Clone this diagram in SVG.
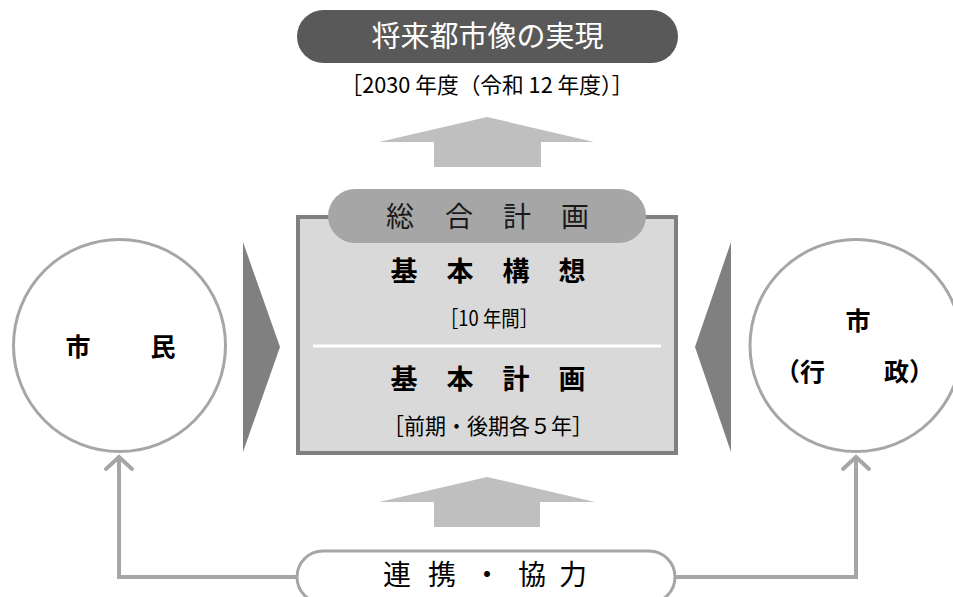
<svg xmlns="http://www.w3.org/2000/svg" width="953" height="597" viewBox="0 0 953 597">
<style>
text{font-family:"Noto Sans CJK JP","Noto Sans",sans-serif;fill:#000}
.mid{text-anchor:middle}
.b{font-weight:bold}
.circ{fill:#fff;stroke:#a6a6a6;stroke-width:3}
.conn{fill:none;stroke:#a6a6a6;stroke-width:4;stroke-linejoin:miter}
.uparrow{fill:#bfbfbf}
.tri{fill:#808080}
</style>
<rect width="953" height="597" fill="#fff"/>

<g id="goal">
<rect x="297" y="10" width="381" height="53" rx="26.5" fill="#595959"/>
<text class="mid" x="487.5" y="47" font-size="29" style="fill:#fff">将来都市像の実現</text>
<text class="mid" x="487" y="93" font-size="22" textLength="293" lengthAdjust="spacingAndGlyphs">［2030 年度（令和 12 年度）］</text>
</g>

<g id="arrow-top">
<polygon class="uparrow" points="487,117 594,142 541,142 541,167 434,167 434,142 379,142"/>
</g>

<g id="plan">
<rect x="298" y="217" width="378" height="236" fill="#d9d9d9" stroke="#808080" stroke-width="4"/>
<rect x="328" y="189" width="318" height="54" rx="27" fill="#a6a6a6"/>
<text class="mid" x="400 459 517 575" y="227" font-size="28" style="fill:#1a1a1a">総合計画</text>
<text class="mid b" x="404 460 516 572" y="281" font-size="27">基本構想</text>
<text class="mid" x="489" y="326" font-size="21" textLength="98" lengthAdjust="spacingAndGlyphs">［10 年間］</text>
<line x1="313" y1="346" x2="661" y2="346" stroke="#fff" stroke-width="3"/>
<text class="mid b" x="404 460 516 572" y="389" font-size="27">基本計画</text>
<text class="mid" x="488" y="434" font-size="22" textLength="210" lengthAdjust="spacingAndGlyphs">［前期・後期各５年］</text>
</g>

<g id="citizens">
<circle class="circ" cx="119.5" cy="345.5" r="106"/>
<text class="mid b" x="78 163" y="356" font-size="25">市民</text>
</g>

<g id="city">
<circle class="circ" cx="856" cy="345.5" r="106"/>
<text class="mid b" x="858" y="330" font-size="25">市</text>
<text class="b" x="825" y="381" font-size="25" text-anchor="end">（行</text>
<text class="b" x="884" y="381" font-size="25">政）</text>
</g>

<g id="arrow-left">
<polygon class="tri" points="243,242 280,347 243,452"/>
</g>
<g id="arrow-right">
<polygon class="tri" points="731,242 695,347 731,452"/>
</g>

<g id="arrow-bottom">
<polygon class="uparrow" points="487,477 595,502 540,502 540,527 434,527 434,502 379,502"/>
</g>

<g id="connectors">
<path class="conn" d="M119,460 V577 H298"/>
<polyline class="conn" points="106,469 119,457 132,469" stroke-linecap="round"/>
<path class="conn" d="M856,460 V577 H675"/>
<polyline class="conn" points="843,469 856,457 869,469" stroke-linecap="round"/>
</g>

<g id="cooperation">
<rect x="297" y="551" width="378" height="52" rx="26" fill="#fff" stroke="#a6a6a6" stroke-width="3"/>
<text class="mid" x="397 442 487 532 573" y="585" font-size="28">連携・協力</text>
</g>
</svg>
